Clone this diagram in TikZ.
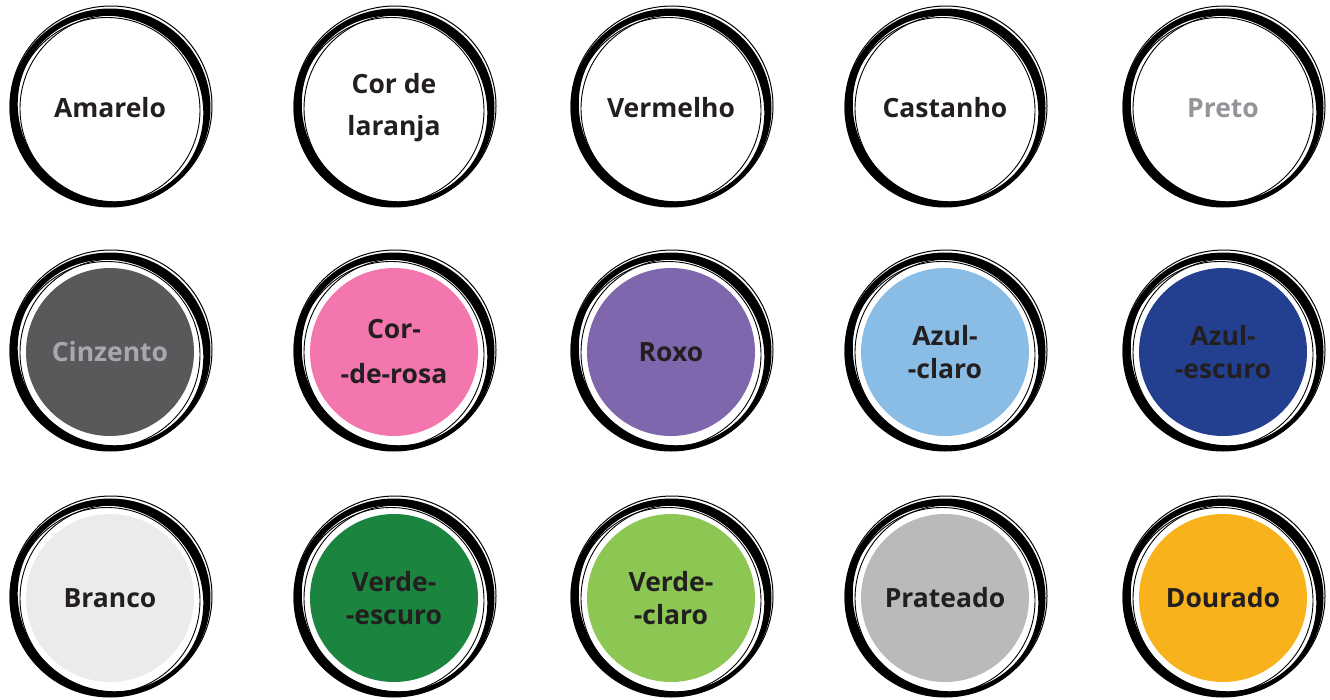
\documentclass[tikz,border=0pt]{standalone}
\usepackage{fontspec}
\setmainfont{Open Sans}
\definecolor{txt}{HTML}{231F20}
\definecolor{cinz}{HTML}{58595B}
\definecolor{cinztxt}{HTML}{A7A9AC}
\definecolor{pretotxt}{HTML}{939598}
\definecolor{rosa}{HTML}{F376AE}
\definecolor{roxo}{HTML}{8066AD}
\definecolor{azulc}{HTML}{8ABDE5}
\definecolor{azule}{HTML}{22408F}
\definecolor{branco}{HTML}{EBEBEB}
\definecolor{verdee}{HTML}{1B843F}
\definecolor{verdec}{HTML}{8DC753}
\definecolor{prata}{HTML}{BABABA}
\definecolor{dourado}{HTML}{F8B31C}
\tikzset{
  brush/.pic={
    \fill[black, even odd rule] (0,0) ellipse [x radius=100.5, y radius=99.5]
          (0.5,0.5) ellipse [x radius=95, y radius=90.5, rotate=-45];
    \draw[black, line width=0.9pt] (3.5,0.5) circle [radius=93.5];
    \draw[black, line width=0.9pt] (-3,2.5) circle [radius=93];
    \draw[black, line width=1pt] (1,-2) ellipse [x radius=101, y radius=100];
  },
  disk/.style={circle, minimum size=168pt, inner sep=0pt, align=center,
    text=txt, font=\bfseries\fontsize{26.5}{33}\selectfont},
}
\begin{document}
\begin{tikzpicture}[x=1pt, y=-1pt]
\useasboundingbox (0,0) rectangle (1330,699);
% row 1
\node[disk] (amarelo) at (110,108) {Amarelo};
\node[disk, font=\bfseries\fontsize{26.5}{42}\selectfont] (laranja) at (394,108) {Cor de\\laranja};
\node[disk] (vermelho) at (671,108) {Vermelho};
\node[disk] (castanho) at (945,108) {Castanho};
\node[disk, text=pretotxt] (preto) at (1223,108) {Preto};
% row 2
\node[disk, fill=cinz, text=cinztxt] (cinzento) at (110,352) {Cinzento};
\node[disk, fill=rosa, font=\bfseries\fontsize{26.5}{45}\selectfont] (rosa) at (394,352) {Cor-\\-de-rosa};
\node[disk, fill=roxo] (roxo) at (671,352) {Roxo};
\node[disk, fill=azulc] (azulclaro) at (945,352) {Azul-\\-claro};
\node[disk, fill=azule] (azulescuro) at (1223,352) {Azul-\\-escuro};
% row 3
\node[disk, fill=branco] (branco) at (110,598) {Branco};
\node[disk, fill=verdee] (verdeescuro) at (394,598) {Verde-\\-escuro};
\node[disk, fill=verdec] (verdeclaro) at (671,598) {Verde-\\-claro};
\node[disk, fill=prata] (prateado) at (945,598) {Prateado};
\node[disk, fill=dourado] (dourado) at (1223,598) {Dourado};
% brush rings
\foreach \n in {amarelo,laranja,vermelho,castanho,preto,cinzento,rosa,roxo,azulclaro,azulescuro,branco,verdeescuro,verdeclaro,prateado,dourado}
  \pic at (\n.center) {brush};
\end{tikzpicture}
\end{document}
